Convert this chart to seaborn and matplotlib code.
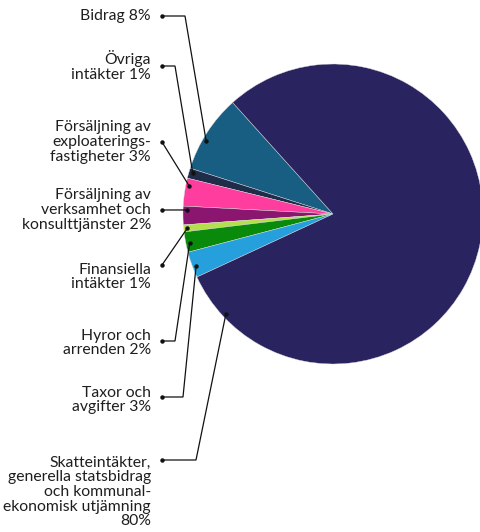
import numpy as np
import matplotlib
matplotlib.use("Agg")
import matplotlib.pyplot as plt
import seaborn as sns

# data, in order counter-clockwise from the top
labels = ["Bidrag 8%",
          "Övriga\nintäkter 1%",
          "Försäljning av\nexploaterings-\nfastigheter 3%",
          "Försäljning av\nverksamhet och\nkonsulttjänster 2%",
          "Finansiella\nintäkter 1%",
          "Hyror och\narrenden 2%",
          "Taxor och\navgifter 3%",
          "Skatteintäkter,\ngenerella statsbidrag\noch kommunal-\nekonomisk utjämning\n80%"]
values = [8.4, 1.1, 3.0, 2.0, 0.75, 2.2, 2.8, 79.8]
colors = ["#175e82", "#1f2d4b", "#ff3d9e", "#8a1670", "#b3e04c", "#0a8a0a", "#25a0dc", "#29235f"]

sns.set_theme(style="white")
plt.rcParams['font.family'] = ['Lato', 'DejaVu Sans']

W, H = 480, 532
fig = plt.figure(figsize=(W / 100, H / 100), dpi=100)
ax = fig.add_axes([0, 0, 1, 1])

cx, cy, R = 333, 214, 150  # pixel centre / radius of the pie
wedges, _ = ax.pie(values, colors=colors, startangle=132, counterclock=True,
                   wedgeprops=dict(linewidth=0.3, edgecolor="#dddddd"))

def px(x, y):
    return (x - cx) / R, (cy - y) / R

x0, y0 = px(0, 0)
x1, y1 = px(W, H)
ax.set_xlim(x0, x1)
ax.set_ylim(y1, y0)
ax.set_aspect('equal', adjustable='box')
ax.axis('off')

# layout for the labels (pixel units)
text_y = [16, 66, 142, 210, 277, 343, 400, 492]
dot_y = [16, 66, 142, 210, 265, 341, 397, 460]
elbow_x = [185, 175, None, None, None, 175, 183, 196]
anchor_frac = [0.6, 0.35, 0.27, 0.2, 0.5, 0.58, 0.58, 0.063]

for w, lab, ty, dy, ex, fr in zip(wedges, labels, text_y, dot_y, elbow_x, anchor_frac):
    ang = np.deg2rad(w.theta1 + fr * (w.theta2 - w.theta1))
    ax_, ay_ = 0.975 * np.cos(ang), 0.975 * np.sin(ang)
    tx, tyd = px(151, ty)
    ax.text(tx, tyd, lab, ha='right', va='center', multialignment='right',
            fontsize=11.3, color="#1e1e1e", linespacing=1.06)
    dx, dyd = px(162, dy)
    pts_x, pts_y = [dx], [dyd]
    if ex is not None:
        exd, _ = px(ex, dy)
        pts_x.append(exd)
        pts_y.append(dyd)
    pts_x.append(ax_)
    pts_y.append(ay_)
    ax.plot(pts_x, pts_y, color="#111111", lw=0.9, solid_joinstyle='miter')
    ax.plot([dx, ax_], [dyd, ay_], 'o', color="#111111", ms=2.2)

fig.savefig("out.png", dpi=100)
